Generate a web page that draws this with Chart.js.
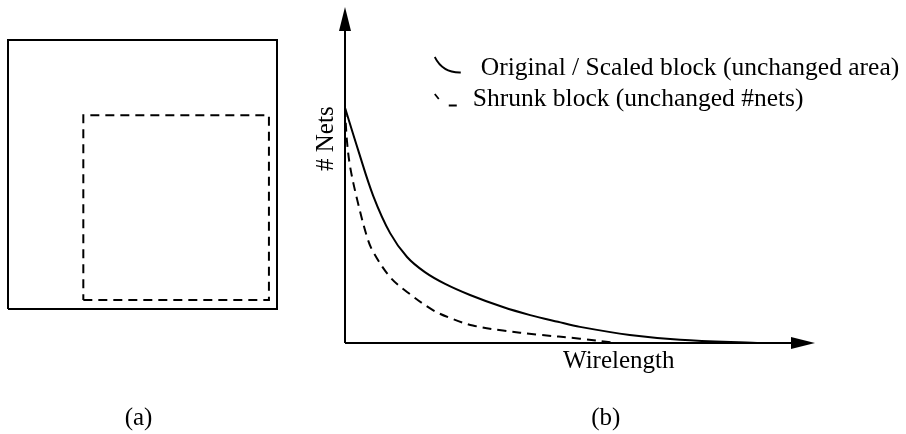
<!DOCTYPE html>
<html>
<head>
<meta charset="utf-8">
<script src="https://cdn.jsdelivr.net/npm/chart.js@4.4.1/dist/chart.umd.min.js"></script>
<style>
  html, body { margin: 0; padding: 0; background: #fff; }
  #wrap { position: relative; width: 906px; height: 434px; }
  #wrap canvas { position: absolute; left: 0; top: 0; }
</style>
</head>
<body>
<div id="wrap">
  <canvas id="blocks" width="906" height="434"></canvas>
  <canvas id="dist" width="906" height="434"></canvas>
</div>
<script>
// (a) block outlines, in units of the original block side
const originalBlock = [[0, 0], [1, 0], [1, 1], [0, 1], [0, 0]];
const shrunkBlock = [[0.28, 0.033], [0.97, 0.033], [0.97, 0.72], [0.28, 0.72], [0.28, 0.033]];

// (b) net-count distribution over wirelength (arbitrary units)
const wirelengthScaled = [0, 0.28, 0.60, 0.96, 1.32, 1.70, 2.13, 2.66, 3.36, 3.94, 4.53, 5.00, 6.06, 7.13, 8.77];
const netsScaled       = [7.0, 5.74, 4.38, 3.27, 2.56, 2.11, 1.76, 1.43, 1.07, 0.83, 0.63, 0.48, 0.24, 0.10, 0.0];
const wirelengthShrunk = [0, 0.04, 0.11, 0.26, 0.47, 0.60, 0.96, 1.32, 1.87, 2.30, 2.72, 3.36, 4.09, 5.00, 5.79];
const netsShrunk       = [7.0, 6.04, 5.24, 4.26, 3.15, 2.71, 1.96, 1.52, 0.98, 0.71, 0.52, 0.37, 0.25, 0.13, 0.0];

const legendLabels = ['Original / Scaled block (unchanged area)', 'Shrunk block (unchanged #nets)'];
const axisTitles = { x: 'Wirelength', y: '# Nets' };
const captions = ['(a)', '(b)'];

const SERIF = '"Liberation Serif", "DejaVu Serif", serif';
const INK = '#000';
const DASH = [9, 6];

const toPoints = (xs, ys) => xs.map((x, i) => ({ x, y: ys[i] }));
const pairs = arr => arr.map(([x, y]) => ({ x, y }));

const hiddenScales = (xmax, ymax) => ({
  x: { type: 'linear', min: 0, max: xmax, display: false },
  y: { type: 'linear', min: 0, max: ymax, display: false }
});

// ---------- (a) ----------
const captionA = {
  id: 'captionA',
  afterDraw(chart) {
    const { ctx, chartArea: a } = chart;
    ctx.save();
    ctx.fillStyle = INK;
    ctx.font = '25px ' + SERIF;
    ctx.textAlign = 'center';
    ctx.textBaseline = 'alphabetic';
    ctx.fillText(captions[0], (a.left + a.right) / 2 - 4, a.bottom + 116);
    ctx.restore();
  }
};

new Chart(document.getElementById('blocks'), {
  type: 'scatter',
  data: {
    datasets: [
      { data: pairs(originalBlock), showLine: true, borderColor: INK, borderWidth: 2,
        pointRadius: 0, clip: false, fill: false },
      { data: pairs(shrunkBlock), showLine: true, borderColor: INK, borderWidth: 2,
        borderDash: DASH, pointRadius: 0, clip: false, fill: false }
    ]
  },
  options: {
    responsive: false, animation: false,
    layout: { padding: { left: 8, right: 629, top: 40, bottom: 125 } },
    scales: hiddenScales(1, 1),
    plugins: { legend: { display: false }, tooltip: { enabled: false } }
  },
  plugins: [captionA]
});

// ---------- (b) ----------
function arrowHead(ctx, tipX, tipY, dir) {
  // dir: 'up' or 'right'; 24px long, 12px wide
  ctx.beginPath();
  if (dir === 'up') {
    ctx.moveTo(tipX, tipY);
    ctx.lineTo(tipX - 6, tipY + 24);
    ctx.lineTo(tipX + 6, tipY + 24);
  } else {
    ctx.moveTo(tipX, tipY);
    ctx.lineTo(tipX - 24, tipY - 6);
    ctx.lineTo(tipX - 24, tipY + 6);
  }
  ctx.closePath();
  ctx.fill();
}

const axesAndText = {
  id: 'axesAndText',
  afterDatasetsDraw(chart) {
    const { ctx, scales: { x, y } } = chart;
    const x0 = x.getPixelForValue(0), y0 = y.getPixelForValue(0);
    const xEnd = x.getPixelForValue(x.max), yEnd = y.getPixelForValue(y.max);
    ctx.save();
    ctx.strokeStyle = INK;
    ctx.fillStyle = INK;
    ctx.lineWidth = 2;
    // axes with arrowheads
    ctx.beginPath();
    ctx.moveTo(x0, y0); ctx.lineTo(x0, yEnd + 20);
    ctx.moveTo(x0, y0); ctx.lineTo(xEnd - 20, y0);
    ctx.stroke();
    arrowHead(ctx, x0, yEnd, 'up');
    arrowHead(ctx, xEnd, y0, 'right');

    // axis titles
    ctx.font = '25px ' + SERIF;
    ctx.textBaseline = 'alphabetic';
    ctx.textAlign = 'left';
    ctx.fillText(axisTitles.x, x.getPixelForValue(4.64), y0 + 25);
    ctx.save();
    ctx.translate(x0 - 12, y.getPixelForValue(5.12));
    ctx.rotate(-Math.PI / 2);
    ctx.fillText(axisTitles.y, 0, 0);
    ctx.restore();

    // legend
    const lx = x.getPixelForValue(1.91);
    ctx.lineWidth = 1.8;
    ctx.beginPath();
    ctx.moveTo(lx, 57);
    ctx.quadraticCurveTo(lx + 8, 73, lx + 26, 72.5);
    ctx.stroke();
    ctx.beginPath();
    ctx.moveTo(lx, 94); ctx.lineTo(lx + 4, 99);
    ctx.moveTo(lx + 14, 105.5); ctx.lineTo(lx + 22, 105.5);
    ctx.stroke();
    ctx.font = '25.5px ' + SERIF;
    ctx.fillText(legendLabels[0], lx + 46, 75);
    ctx.fillText(legendLabels[1], lx + 38, 106);

    // caption
    ctx.font = '25px ' + SERIF;
    ctx.textAlign = 'center';
    ctx.fillText(captions[1], x.getPixelForValue(5.55), y0 + 82);
    ctx.restore();
  }
};

new Chart(document.getElementById('dist'), {
  type: 'scatter',
  data: {
    datasets: [
      { data: toPoints(wirelengthScaled, netsScaled), showLine: true, borderColor: INK,
        borderWidth: 2, pointRadius: 0, tension: 0.35, clip: false },
      { data: toPoints(wirelengthShrunk, netsShrunk), showLine: true, borderColor: INK,
        borderWidth: 2, borderDash: DASH, pointRadius: 0, tension: 0.35, clip: false }
    ]
  },
  options: {
    responsive: false, animation: false,
    layout: { padding: { left: 345, right: 91, top: 7, bottom: 91 } },
    scales: hiddenScales(10, 10),
    plugins: { legend: { display: false }, tooltip: { enabled: false } }
  },
  plugins: [axesAndText]
});
</script>
</body>
</html>
